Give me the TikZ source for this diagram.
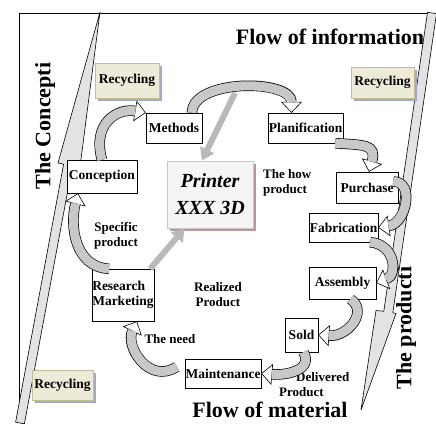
\documentclass[tikz,border=0pt]{standalone}
\usepackage{fontspec}
\setmainfont{Liberation Serif}
\usetikzlibrary{arrows.meta, shadows}

\definecolor{recfill}{RGB}{238,234,216}
\definecolor{recline}{RGB}{196,189,151}
\definecolor{recshadow}{RGB}{160,172,196}
\definecolor{prtshadow}{RGB}{190,150,150}
\definecolor{bandgray}{RGB}{200,200,200}

% curved block arrow: black outline, grey band, open head
\newcommand{\bandarrow}[1]{%
  \draw[bandout] #1;
  \draw[bandin] #1;}

\begin{document}
\begin{tikzpicture}[
    x=1pt, y=-1pt,
    stage/.style={rectangle, draw=black, fill=white, inner sep=0pt, align=center, font=\fontsize{13.5}{15}\selectfont\bfseries},
    recycle/.style={rectangle, draw=recline, fill=recfill, inner sep=0pt, font=\fontsize{13.5}{15}\selectfont\bfseries, drop shadow={shadow xshift=3pt, shadow yshift=-3pt, fill=recshadow, opacity=1}},
    remark/.style={inner sep=0pt, align=center, font=\fontsize{13}{15}\selectfont\bfseries},
    heading/.style={inner sep=0pt, font=\fontsize{22}{24}\selectfont\bfseries},
    bandout/.style={line width=10.5pt, -{Triangle[length=11pt, width=21pt, fill=white, line width=0.6pt]}},
    bandin/.style={line width=9.1pt, draw=bandgray, shorten >=10.5pt},
    pointer/.style={line width=6pt, draw=gray!55, -{Triangle[length=12pt, width=15pt]}},
    flow/.style={draw=black, fill=gray!22, line width=0.6pt, line join=round}
]
\useasboundingbox (0,0) rectangle (436,423);

% Frame and the two long flows
\draw[line width=0.8pt] (19,423) -- (19,13) -- (432,13);
\draw[flow] (15.6,422.2) -- (63.6,164.2) -- (58,163) -- (100,12) -- (80,167) -- (72.4,165.8) -- (24.4,423.8) -- cycle;
\draw[flow] (427.5,12.3) -- (383.8,311.3) -- (376,310.5) -- (361,410) -- (396,313.5) -- (392.8,312.7) -- (436.5,13.7) -- cycle;

% Titles
\node (info) [heading] at (330,37) {Flow of information};
\node (material) [heading, anchor=base] at (270,417) {Flow of material};
\node (concept) [heading, rotate=90] at (45,126) {The Concepti};
\node (product) [heading, rotate=90] at (406,328) {The producti};

% Recycling boxes
\node (recTL) [recycle, minimum width=64pt, minimum height=35pt] at (127,80.5) {Recycling};
\node (recTR) [recycle, minimum width=63pt, minimum height=31pt] at (382.5,82.5) {Recycling};
\node (recBL) [recycle, minimum width=61pt, minimum height=30pt] at (62.5,385) {Recycling};

% Stages of the cycle
\node (methods) [stage, minimum width=56pt, minimum height=30pt] at (174,128) {Methods};
\node (conception) [stage, minimum width=70pt, minimum height=33pt] at (102,176.5) {Conception};
\node (planif) [stage, minimum width=75pt, minimum height=30pt] at (305.5,128) {Planification};
\node (purchase) [stage, minimum width=62pt, minimum height=31pt] at (367,187.5) {Purchase};
\node (fabrication) [stage, minimum width=69pt, minimum height=29pt] at (343.5,227.5) {Fabrication};
\node (assembly) [stage, minimum width=67pt, minimum height=32pt] at (342.5,283) {Assembly};
\node (sold) [stage, minimum width=33pt, minimum height=34pt] at (301.5,335) {Sold};
\node (maintenance) [stage, minimum width=76pt, minimum height=29pt] at (223,373.5) {Maintenance};
\node (research) [stage, align=left, minimum width=62pt, minimum height=52pt] at (123,295) {Research\\Marketing};

\node (printer) [rectangle, draw=gray!45, fill=gray!8, line width=1pt, minimum width=86pt, minimum height=67pt,
    align=center, font=\fontsize{20}{27}\selectfont\bfseries\itshape,
    drop shadow={shadow xshift=3pt, shadow yshift=-3pt, fill=prtshadow, opacity=1}] at (210,194.5) {Printer\\XXX 3D};

% Labels
\node (specific) [remark] at (116,236) {Specific\\product};
\node (realized) [remark] at (218,295) {Realized\\Product};
\node (need) [remark] at (170,339) {The need};
\node (howprod) [remark, align=left, anchor=west] at (263,183) {The how\\product};
\node (delivered) [remark, align=left, anchor=west] at (279,385) {\hspace*{17pt}Delivered\\Product};

% Cycle arrows
\bandarrow{(conception.north) .. controls +(-10,-35) and +(-30,-5) .. (methods.north west)}
\bandarrow{([xshift=18pt]methods.north) .. controls +(0,-34) and +(0,-34) .. ([xshift=-14pt]planif.north)}
\bandarrow{([xshift=-8pt]planif.south east) .. controls +(28,2) and +(8,-28) .. ([xshift=2pt]purchase.north)}
\bandarrow{([xshift=-5pt,yshift=6pt]purchase.east) .. controls +(22,0) and +(28,-4) .. (fabrication.east)}
\bandarrow{([xshift=-8pt]fabrication.south east) .. controls +(25,2) and +(22,-8) .. (assembly.east)}
\bandarrow{([xshift=8pt]assembly.south) .. controls +(18,12) and +(30,2) .. (sold.east)}
\bandarrow{([xshift=2pt]sold.south) .. controls +(10,18) and +(25,2) .. (maintenance.east)}
\bandarrow{([xshift=-8pt,yshift=-8pt]maintenance.north west) .. controls +(-28,18) and +(-12,25) .. ([xshift=14pt]research.south)}
\bandarrow{([xshift=-14pt]research.north) .. controls +(-35,-2) and +(-8,32) .. ([xshift=-24pt]conception.south)}

% Into the printer
\coordinate (arctop) at (235,93);
\draw[pointer] (arctop) -- ([xshift=-8pt]printer.north);
\draw[pointer] ([xshift=-4pt]research.north east) -- ([xshift=18pt]printer.south west);

\end{tikzpicture}
\end{document}
